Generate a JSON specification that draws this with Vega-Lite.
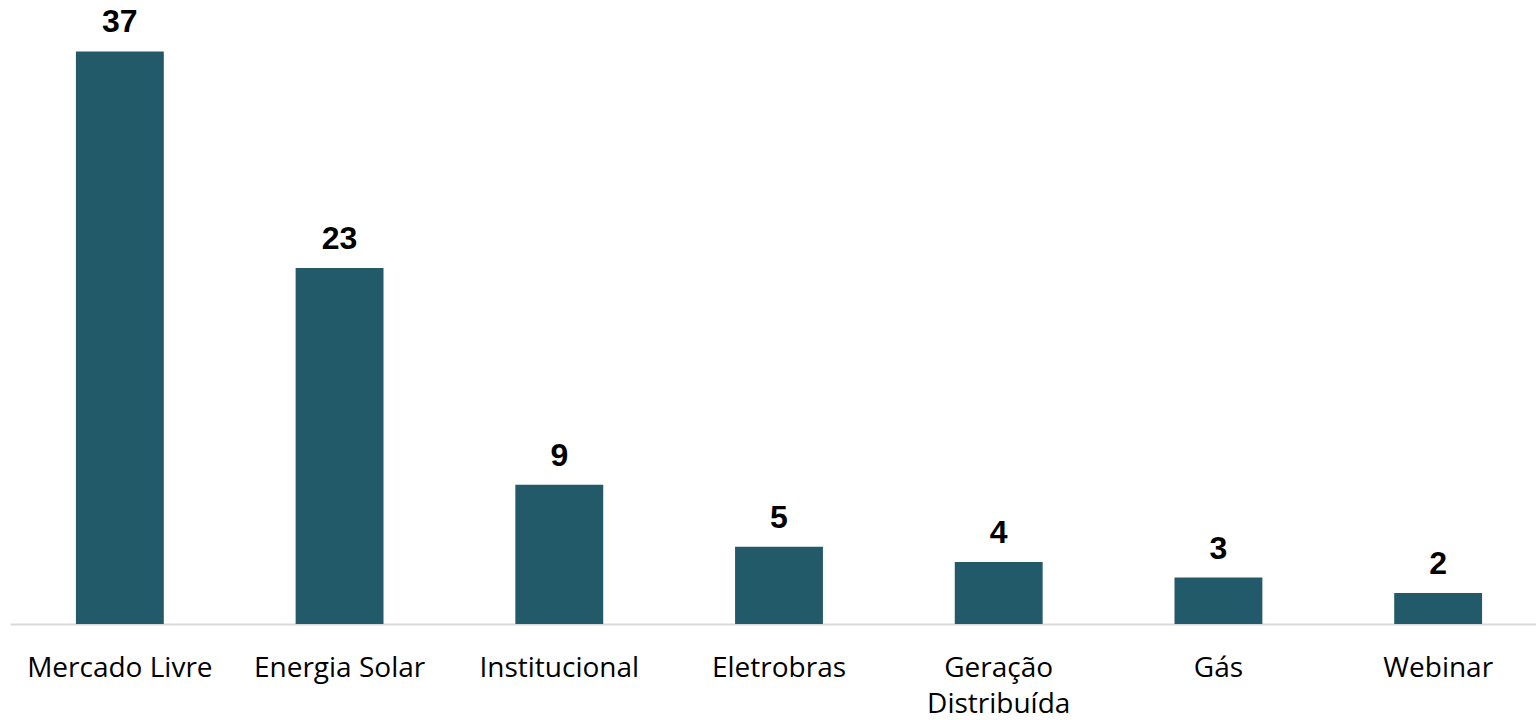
{
  "$schema": "https://vega.github.io/schema/vega-lite/v6.json",
  "width": 1526,
  "height": 619,
  "padding": {"left": 10, "top": 5, "right": 0, "bottom": 96},
  "autosize": {"type": "none"},
  "background": "white",
  "config": {"view": {"stroke": null}},
  "data": {
    "values": [
      {"categoria": "Mercado Livre", "valor": 37},
      {"categoria": "Energia Solar", "valor": 23},
      {"categoria": "Institucional", "valor": 9},
      {"categoria": "Eletrobras", "valor": 5},
      {"categoria": "Geração Distribuída", "valor": 4},
      {"categoria": "Gás", "valor": 3},
      {"categoria": "Webinar", "valor": 2}
    ]
  },
  "encoding": {
    "x": {
      "field": "categoria",
      "type": "nominal",
      "sort": null,
      "scale": {"range": [0, 1538], "paddingInner": 0.6, "paddingOuter": 0.3},
      "axis": {
        "title": null,
        "labelAngle": 0,
        "labelFont": "Open Sans",
        "labelFontSize": 28,
        "labelColor": "#000000",
        "labelPadding": 30,
        "labelLineHeight": 36,
        "labelBaseline": "top",
        "labelLimit": 400,
        "ticks": false,
        "domainColor": "#d9d9d9",
        "domainWidth": 2,
        "labelExpr": "datum.value == 'Geração Distribuída' ? ['Geração', 'Distribuída'] : datum.value"
      }
    },
    "y": {
      "field": "valor",
      "type": "quantitative",
      "scale": {"domain": [0, 40]},
      "axis": null
    }
  },
  "layer": [
    {"mark": {"type": "bar", "color": "#235a69"}},
    {
      "mark": {"type": "text", "font": "Liberation Sans", "fontWeight": "bold", "fontSize": 32, "baseline": "alphabetic", "dy": -19, "color": "#000000"},
      "encoding": {"text": {"field": "valor", "type": "quantitative"}}
    }
  ]
}
